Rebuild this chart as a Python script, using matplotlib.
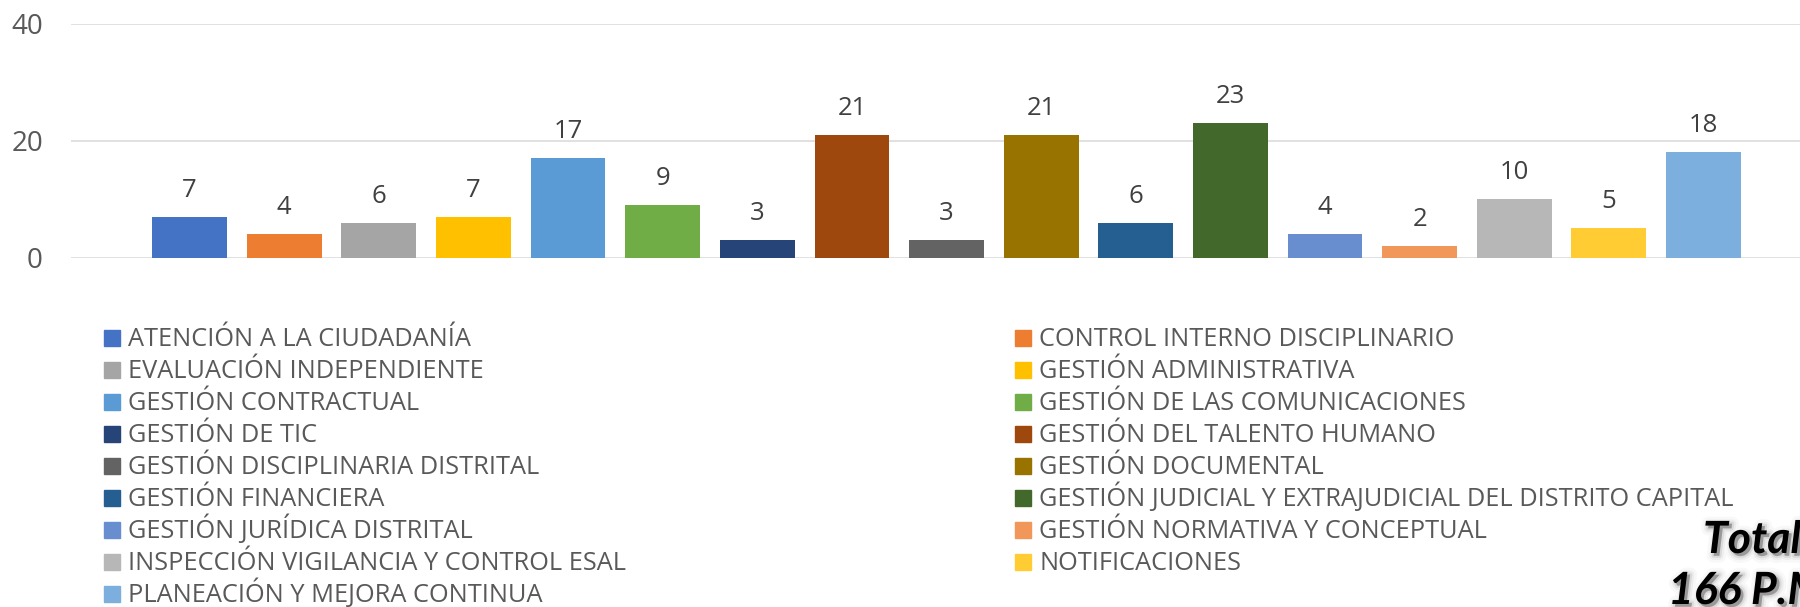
import matplotlib
matplotlib.use('Agg')
import matplotlib.pyplot as plt
import matplotlib.patheffects as pe
from matplotlib.patches import Rectangle
import numpy as np

plt.rcParams['font.family'] = ['Open Sans', 'DejaVu Sans']

# Data
procesos = [
    'ATENCIÓN A LA CIUDADANÍA', 'CONTROL INTERNO DISCIPLINARIO',
    'EVALUACIÓN INDEPENDIENTE', 'GESTIÓN ADMINISTRATIVA',
    'GESTIÓN CONTRACTUAL', 'GESTIÓN DE LAS COMUNICACIONES',
    'GESTIÓN DE TIC', 'GESTIÓN DEL TALENTO HUMANO',
    'GESTIÓN DISCIPLINARIA DISTRITAL', 'GESTIÓN DOCUMENTAL',
    'GESTIÓN FINANCIERA', 'GESTIÓN JUDICIAL Y EXTRAJUDICIAL DEL DISTRITO CAPITAL',
    'GESTIÓN JURÍDICA DISTRITAL', 'GESTIÓN NORMATIVA Y CONCEPTUAL',
    'INSPECCIÓN VIGILANCIA Y CONTROL ESAL', 'NOTIFICACIONES',
    'PLANEACIÓN Y MEJORA CONTINUA',
]
valores = [7, 4, 6, 7, 17, 9, 3, 21, 3, 21, 6, 23, 4, 2, 10, 5, 18]
colores = ['#4472C4', '#ED7D31', '#A5A5A5', '#FFC000', '#5B9BD5', '#70AD47',
           '#264478', '#9E480E', '#636363', '#997300', '#255E91', '#43682B',
           '#698ED0', '#F1975A', '#B7B7B7', '#FFCD33', '#7CAFDD']
y_ticks = [0, 20, 40]
total_lineas = ['Total', '166 P.M.']

W, H = 1800, 607
fig = plt.figure(figsize=(W / 100, H / 100), dpi=100)


def fx(px):
    return px / W


def fy(py):
    return 1 - py / H


# plot area (pixels measured on the reference)
left, right, top, bottom = 70.7, 1800, 23.7, 257.7
ax = fig.add_axes([fx(left), fy(bottom), fx(right - left), (bottom - top) / H])

x = np.arange(len(valores))
ax.bar(x, valores, width=0.79, color=colores, zorder=2)
for xi, v in zip(x, valores):
    ax.annotate(str(v), (xi, v), xytext=(0, 14.4), textcoords='offset points',
                ha='center', va='baseline', fontsize=18.5, color='#404040')

ax.set_xlim(-1.256, 17.02)
ax.set_ylim(0, 40)
ax.set_yticks(y_ticks)
ax.set_xticks([])
ax.tick_params(axis='y', length=0, pad=20, labelsize=20, labelcolor='#595959')
for s in ax.spines.values():
    s.set_visible(False)
for t in y_ticks:
    ax.axhline(t, color='#D9D9D9', lw=1.1, zorder=1)

# legend, filled row by row in two columns like the original
for i, (nombre, c) in enumerate(zip(procesos, colores)):
    col, row = i % 2, i // 2
    cy = 337.5 + 32 * row
    mx = 104 if col == 0 else 1015
    fig.patches.append(Rectangle((fx(mx), fy(cy + 8)), fx(16), 16 / H,
                                 transform=fig.transFigure, color=c))
    fig.text(fx(mx + 24), fy(cy + 8.5), nombre, fontsize=18.3,
             color='#595959', va='baseline', ha='left')

# total, with a soft shadow
sombra = [pe.Stroke(offset=(2, -2), linewidth=10, foreground='#A0A0A0', alpha=0.07),
          pe.Stroke(offset=(2, -2), linewidth=6, foreground='#A0A0A0', alpha=0.12),
          pe.Stroke(offset=(2, -2), linewidth=3, foreground='#909090', alpha=0.2),
          pe.Normal()]
for (tx, ty), linea in zip([(1703, 553), (1668, 604)], total_lineas):
    fig.text(fx(tx), fy(ty), linea, fontsize=32, fontweight='bold',
             fontstyle='italic', color='black', va='baseline', ha='left',
             family=['Lato', 'DejaVu Sans'], path_effects=sombra)

plt.savefig('out.png', dpi=100)
